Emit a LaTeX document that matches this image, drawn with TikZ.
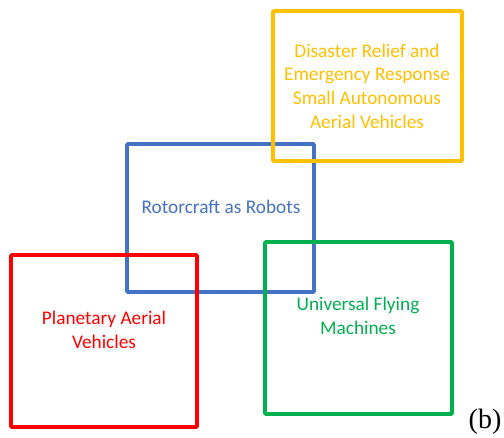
\documentclass[tikz,border=0pt]{standalone}
\usepackage{fontspec}
\setmainfont{Carlito}
\newfontfamily\timesfont{Liberation Serif}
\definecolor{cOrange}{HTML}{FFC000}
\definecolor{cBlue}{HTML}{4472C4}
\definecolor{cRed}{HTML}{FF0000}
\definecolor{cGreen}{HTML}{00B050}
\begin{document}
\begin{tikzpicture}[x=1bp,y=-1bp,
  frame/.style={draw=#1,line width=3.6bp,rounded corners=1bp},
  label/.style={text=#1,align=center,inner sep=0pt,font=\fontsize{19.3bp}{23.6bp}\selectfont}]
\useasboundingbox (0,0) rectangle (504,438);
% blue first (lies underneath)
\draw[frame=cBlue] (127,144) rectangle (314,292);
\draw[frame=cOrange] (273,11) rectangle (462,161);
\draw[frame=cRed] (11,255) rectangle (197,427);
\draw[frame=cGreen] (265,242) rectangle (452,414);
\node[label=cOrange] (torange) at (367,86) {Disaster Relief and\\Emergency Response\\Small Autonomous\\Aerial Vehicles};
\node[label=cBlue] (tblue) at (221,207) {Rotorcraft as Robots};
\node[label=cRed] (tred) at (104,330) {Planetary Aerial\\Vehicles};
\node[label=cGreen] (tgreen) at (358,316) {Universal Flying\\Machines};
\node[inner sep=0pt,font=\timesfont\fontsize{28bp}{32bp}\selectfont] (tb) at (485,422) {(b)};
\end{tikzpicture}
\end{document}
